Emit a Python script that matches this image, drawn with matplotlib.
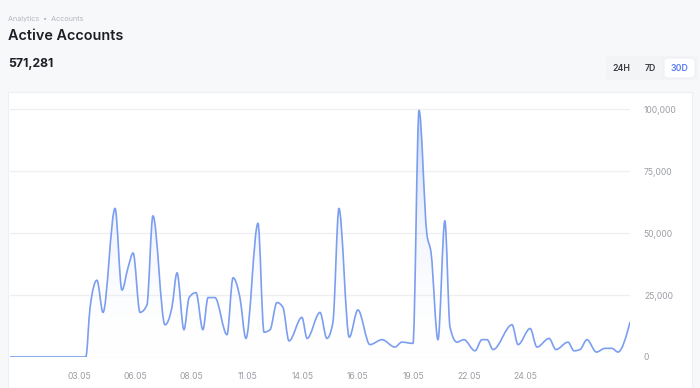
import numpy as np
import matplotlib
matplotlib.use("Agg")
import matplotlib.pyplot as plt
from matplotlib.path import Path
from matplotlib.patches import PathPatch, FancyBboxPatch, Rectangle
from matplotlib.colors import LinearSegmentedColormap

plt.rcParams['font.family'] = ['Inter', 'DejaVu Sans']

# hours since start of the 30 day window, and active accounts
hours = [0, 88, 93, 101, 108, 122, 130, 137, 143, 151, 159, 166, 180, 188, 194,
         202, 208, 216, 224, 230, 238, 252, 259, 267, 274, 288, 295, 302, 310,
         317, 324, 339, 345, 360, 368, 375, 382, 394, 404, 418, 432, 447, 455,
         468, 475, 484, 489, 497, 505, 511, 519, 527, 540, 548, 554, 561, 583,
         590, 604, 612, 626, 634, 648, 655, 662, 670, 681, 691, 699, 706, 720]
accounts = [0, 0, 20000, 31000, 18000, 60000, 27000, 36000, 42000, 18000, 21000,
            57000, 13000, 20000, 34000, 11000, 24000, 26000, 11000, 24000, 24000,
            9000, 32000, 24000, 7500, 54000, 10000, 11000, 22000, 20000, 6500,
            16000, 7500, 18000, 7500, 14000, 60000, 8000, 19000, 5000, 7000, 4000,
            6000, 5500, 99600, 50000, 42000, 7000, 55000, 12000, 6000, 7000, 2500,
            7000, 7000, 3000, 13000, 5000, 11500, 4000, 7500, 3000, 6000, 2500,
            3000, 7000, 2000, 3500, 3500, 2000, 14000]

tick_hours = [81, 146, 211, 276, 340, 404, 469, 533, 598]
tick_labels = ['03.05', '06.05', '08.05', '11.05', '14.05', '16.05', '19.05',
               '22.05', '24.05']
y_ticks = [0, 25000, 50000, 75000, 100000]
y_labels = ['0', '25,000', '50,000', '75,000', '100,000']

line_color = '#7b9ef0'


def monotone_verts(xs, ys):
    # bezier control points like d3 curveMonotoneX
    xs = np.asarray(xs, float)
    ys = np.asarray(ys, float)
    n = len(xs)
    h = np.diff(xs)
    s = np.diff(ys) / h
    t = np.zeros(n)
    for i in range(1, n - 1):
        if s[i - 1] * s[i] <= 0:
            t[i] = 0
        else:
            p = (s[i - 1] * h[i] + s[i] * h[i - 1]) / (h[i - 1] + h[i])
            t[i] = (np.sign(s[i - 1]) + np.sign(s[i])) * min(abs(s[i - 1]), abs(s[i]), 0.5 * abs(p))
    t[0] = (3 * s[0] - t[1]) / 2
    t[-1] = (3 * s[-1] - t[-2]) / 2
    verts = [(xs[0], ys[0])]
    codes = [Path.MOVETO]
    for i in range(n - 1):
        d = h[i] / 3
        verts += [(xs[i] + d, ys[i] + d * t[i]),
                  (xs[i + 1] - d, ys[i + 1] - d * t[i + 1]),
                  (xs[i + 1], ys[i + 1])]
        codes += [Path.CURVE4] * 3
    return verts, codes


fig = plt.figure(figsize=(7, 3.88), dpi=100)
fig.patch.set_facecolor('#f7f8fa')

# white chart panel
fig.patches.append(Rectangle((8 / 700, -0.01), 684 / 700, (388 - 92) / 388 + 0.01,
                             transform=fig.transFigure, facecolor='white',
                             edgecolor='#eeeff2', linewidth=0.8, zorder=-5))

ax = fig.add_axes([10 / 700, 31 / 388, 620 / 700, 265 / 388])
ax.set_zorder(5)
ax.set_facecolor('none')

for v in y_ticks:
    ax.axhline(v, color='#eeeff1', linewidth=0.9, zorder=1)

verts, codes = monotone_verts(hours, accounts)
line_path = Path(verts, codes)
fill_path = Path(verts + [(hours[-1], 0), (hours[0], 0), (hours[0], 0)],
                 codes + [Path.LINETO, Path.LINETO, Path.CLOSEPOLY])

cmap = LinearSegmentedColormap.from_list('fade', [(1, 1, 1, 0), (0.48, 0.62, 0.94, 0.38)])
grad = np.linspace(0, 1, 256).reshape(-1, 1)
img = ax.imshow(grad, extent=[0, 720, 0, 100000], origin='lower', aspect='auto',
                cmap=cmap, zorder=2)
fill_patch = PathPatch(fill_path, facecolor='none', edgecolor='none')
ax.add_patch(fill_patch)
img.set_clip_path(fill_patch)
ax.set_xlim(0, 720)
ax.set_ylim(0, 107000)

ax.add_patch(PathPatch(line_path, facecolor='none', edgecolor=line_color,
                       linewidth=1.2, zorder=3, capstyle='round', joinstyle='round'))

for sp in ax.spines.values():
    sp.set_visible(False)
ax.set_xticks(tick_hours)
ax.set_xticklabels(tick_labels)
ax.yaxis.tick_right()
ax.set_yticks(y_ticks)
ax.set_yticklabels(y_labels)
ax.tick_params(axis='x', length=0, pad=11, labelsize=6.2, labelcolor='#9b9ea4')
ax.tick_params(axis='y', length=0, pad=10, labelsize=6.2, labelcolor='#9b9ea4')
for lab in ax.get_yticklabels():
    lab.set_horizontalalignment('left')

# header
fig.text(8 / 700, 1 - 19 / 388, 'Analytics  \u2022  Accounts', fontsize=5.2,
         color='#b3b7be', va='center')
fig.text(8 / 700, 1 - 36 / 388, 'Active Accounts', fontsize=10.4, fontweight='semibold',
         color='#1d1f24', va='center')
fig.text(8 / 700, 1 - 63.5 / 388, '571,281', fontsize=8.8, fontweight='bold',
         color='#1d1f24', va='center')

# range buttons
fig.patches.append(FancyBboxPatch((606 / 700, 1 - 80 / 388), 92 / 700, 24 / 388,
                                  boxstyle='round,pad=0,rounding_size=0.01',
                                  transform=fig.transFigure, facecolor='#f3f4f6',
                                  edgecolor='none', zorder=1))
fig.patches.append(FancyBboxPatch((664 / 700, 1 - 78 / 388), 31 / 700, 20 / 388,
                                  boxstyle='round,pad=0,rounding_size=0.008',
                                  transform=fig.transFigure, facecolor='white',
                                  edgecolor='#e9eaee', linewidth=0.5, zorder=2))
for label, xc, col in [('24H', 621.5, '#3b3d42'), ('7D', 650, '#3b3d42'), ('30D', 679.5, '#5b7cf4')]:
    fig.text(xc / 700, 1 - 68.5 / 388, label, fontsize=6.3, fontweight='semibold',
             color=col, ha='center', va='center', zorder=3)

fig.savefig('out.png', dpi=100, facecolor=fig.get_facecolor())
